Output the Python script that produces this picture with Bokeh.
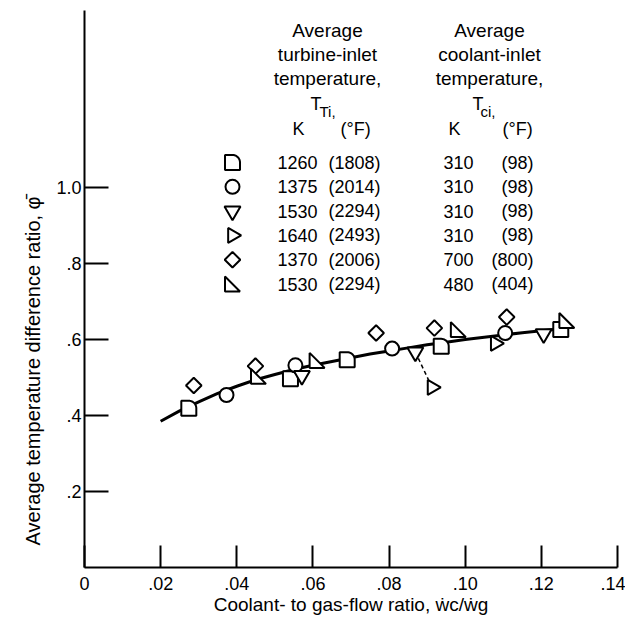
import numpy as np
from bokeh.plotting import figure
from bokeh.models import Range1d, FixedTicker, Label, Title
from bokeh.embed import file_html
from bokeh.resources import INLINE
from bokeh.core.properties import value

# ---------------- data ----------------
curve_x = [0.020, 0.025, 0.030, 0.035, 0.040, 0.045, 0.050, 0.055, 0.060, 0.065, 0.070,
           0.075, 0.080, 0.085, 0.090, 0.095, 0.100, 0.105, 0.110, 0.115, 0.120, 0.125]
curve_y = [0.385, 0.412, 0.436, 0.458, 0.477, 0.494, 0.508, 0.521, 0.532, 0.542, 0.552,
           0.562, 0.570, 0.578, 0.586, 0.593, 0.600, 0.606, 0.612, 0.618, 0.623, 0.628]

d_x = [0.0274, 0.0541, 0.0690, 0.0937, 0.1251]      # 1260 K / 310 K
d_y = [0.419, 0.497, 0.547, 0.582, 0.626]
circ_x = [0.0373, 0.0554, 0.0808, 0.1105]           # 1375 K / 310 K
circ_y = [0.454, 0.532, 0.576, 0.617]
inv_x = [0.0571, 0.0869, 0.1206]                    # 1530 K / 310 K
inv_y = [0.505, 0.567, 0.615]
right_x = [0.0913, 0.1079]                          # 1640 K / 310 K
right_y = [0.474, 0.590]
diam_x = [0.0287, 0.0449, 0.0766, 0.0919, 0.1109]   # 1370 K / 700 K
diam_y = [0.479, 0.530, 0.617, 0.630, 0.659]
rt_x = [0.0457, 0.0611, 0.0982, 0.1267]             # 1530 K / 480 K
rt_y = [0.503, 0.545, 0.626, 0.650]
dash_x = [0.0869, 0.0913]
dash_y = [0.567, 0.474]

x_ticks = [0, 0.02, 0.04, 0.06, 0.08, 0.10, 0.12, 0.14]
x_tick_labels = ["0", ".02", ".04", ".06", ".08", ".10", ".12", ".14"]
y_ticks = [0.2, 0.4, 0.6, 0.8, 1.0]
y_tick_labels = [".2", ".4", ".6", ".8", "1.0"]

leg_ti_k = ["1260", "1375", "1530", "1640", "1370", "1530"]
leg_ti_f = ["(1808)", "(2014)", "(2294)", "(2493)", "(2006)", "(2294)"]
leg_tc_k = ["310", "310", "310", "310", "700", "480"]
leg_tc_f = ["(98)", "(98)", "(98)", "(98)", "(800)", "(404)"]

# ---------------- layout helpers (pixel -> data) ----------------
FW, FH = 533, 557
X_END = 0.14
Y_END = FH / 380.0
KX = FW / X_END
KY = FH / Y_END
OX, OY = 84, 567   # image pixel of data origin


def X(px):
    return (px - OX) / KX


def Y(py):
    return (OY - py) / KY


FONT = "Liberation Sans"

p = figure(frame_width=FW, frame_height=FH,
           x_range=Range1d(0, X_END), y_range=Range1d(0, Y_END),
           output_backend="svg", toolbar_location=None,
           min_border_left=84, min_border_right=8, min_border_top=10, min_border_bottom=53)
p.outline_line_color = None
p.grid.visible = False
p.background_fill_color = "white"
p.border_fill_color = "white"

for ax, ticks, labels, tin, standoff in ((p.xaxis[0], x_ticks, x_tick_labels, 22, 9),
                                          (p.yaxis[0], y_ticks, y_tick_labels, 24, 3)):
    ax.ticker = FixedTicker(ticks=ticks)
    ax.major_label_overrides = dict(zip(ticks, labels))
    ax.axis_line_width = 2
    ax.axis_line_color = "black"
    ax.major_tick_line_width = 2
    ax.major_tick_line_color = "black"
    ax.major_tick_in = tin
    ax.major_tick_out = 0
    ax.minor_tick_line_color = None
    ax.major_label_text_font = FONT
    ax.major_label_text_font_size = "18px"
    ax.major_label_text_color = "black"
    ax.major_label_standoff = standoff

p.xaxis[0].axis_label = "Coolant- to gas-flow ratio, \u1e87c/\u1e87g"
p.xaxis[0].axis_label_text_font = FONT
p.xaxis[0].axis_label_text_font_size = "19px"
p.xaxis[0].axis_label_text_font_style = "normal"
p.xaxis[0].axis_label_text_color = "black"
p.xaxis[0].axis_label_standoff = 1

ytitle = Title(text="Average temperature difference ratio, \u03c6\u0304", align="left", offset=22,
               text_font=FONT, text_font_size="20px", text_font_style="normal",
               text_color="black", standoff=20)
p.add_layout(ytitle, "left")

# ---------------- curve and data ----------------
p.line(curve_x, curve_y, line_color="black", line_width=3)
p.line(dash_x, dash_y, line_color="black", line_width=1.5, line_dash="4 3")

mk = dict(fill_color="white", line_color="black", line_width=2)


def d_shape(xc, yc, r=7.5):
    ang = np.linspace(np.pi / 2, 0, 12)
    px = [-r, -r, 0.0] + list(r * np.cos(ang)) + [r]
    py = [-r, r, r] + list(r * np.sin(ang)) + [-r]
    return [xc + v / KX for v in px], [yc + v / KY for v in py]


def rt_shape(xc, yc, r=7.5):
    px = [-r, -r, r]
    py = [r, -r, -r]
    return [xc + v / KX for v in px], [yc + v / KY for v in py]


def draw_markers(dx, dy, cx, cy, ix, iy, rx, ry, mx, my, tx, ty):
    sh = [d_shape(a, b) for a, b in zip(dx, dy)]
    p.patches([s[0] for s in sh], [s[1] for s in sh], **mk)
    p.scatter(cx, cy, marker="circle", size=14, **mk)
    p.scatter(ix, iy, marker="inverted_triangle", size=16, **mk)
    p.scatter(rx, ry, marker="triangle", angle=-np.pi / 2, size=15, **mk)
    p.scatter(mx, my, marker="square", angle=np.pi / 4, size=11, **mk)
    sh = [rt_shape(a, b) for a, b in zip(tx, ty)]
    p.patches([s[0] for s in sh], [s[1] for s in sh], **mk)


draw_markers(d_x, d_y, circ_x, circ_y, inv_x, inv_y, right_x, right_y, diam_x, diam_y, rt_x, rt_y)

# ---------------- legend ----------------
rows = [Y(162 + 24.3 * i) for i in range(6)]
lx = X(232)
draw_markers([lx], [rows[0]], [lx], [rows[1]], [lx], [rows[2]], [lx], [rows[3]],
             [lx], [rows[4]], [lx], [rows[5]])

tk = dict(text_font=value(FONT), text_font_size="18px", text_color="black",
          text_baseline="middle")
p.text([X(277)] * 6, rows, text=leg_ti_k, text_align="left", **tk)
p.text([X(380)] * 6, rows, text=leg_ti_f, text_align="right", **tk)
p.text([X(443)] * 6, rows, text=leg_tc_k, text_align="left", **tk)
p.text([X(533)] * 6, rows, text=leg_tc_f, text_align="right", **tk)


def lab(txt, px, py, size="19px", align="left"):
    p.add_layout(Label(x=X(px), y=Y(py), text=txt, text_font=FONT, text_font_size=size,
                       text_align=align, text_baseline="alphabetic", text_color="black"))


for cxp, line2 in ((327, "turbine-inlet"), (489, "coolant-inlet")):
    lab("Average", cxp, 30, align="center")
    lab(line2, cxp, 54, align="center")
    lab("temperature,", cxp, 78, align="center")

lab("T", 310, 103, size="18px")
lab("Ti,", 319, 111, size="15px")
lab("K", 292, 128, size="18px")
lab("(\u00b0F)", 340, 128, size="18px")
lab("T", 472, 103, size="18px")
lab("ci,", 480, 111, size="15px")
lab("K", 448, 128, size="18px")
lab("(\u00b0F)", 502, 128, size="18px")

open("out.html", "w").write(file_html(p, INLINE))
